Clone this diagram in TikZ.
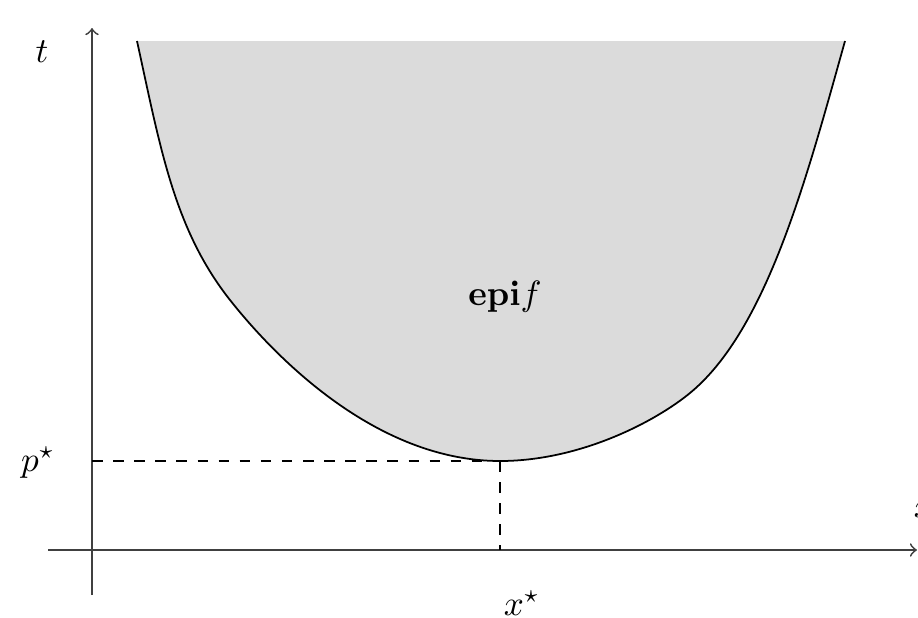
\documentclass[tikz,border=0pt]{standalone}
\usepackage{amsmath}
\usepackage{amssymb}
\usepackage{xcolor}
\usepackage{tikz}

\begin{document}
\begin{tikzpicture}[x=0.01cm,y=0.01cm,>=to]
  \useasboundingbox (0,0) rectangle (918,617);
  \coordinate (tbot) at (92,22);
  \coordinate (ttop) at (92,589);
  \coordinate (xleft) at (48,67);
  \coordinate (xright) at (917,67);
  \coordinate (xmin) at (500,156);
  \coordinate (pmark) at (92,156);
  \coordinate (xmark) at (500,67);
  \fill[black!14] (137,576) .. controls (160.5,468.5) and (174.2,387.65) .. (230,317) .. controls (273.4,262.05) and (375,156) .. (xmin) .. controls (580,156) and (655.3,195.4) .. (690,224) .. controls (767.2,287.5) and (807.2,441.2) .. (845,576) -- cycle;
  \draw[black, line width=0.5pt] (137,576) .. controls (160.5,468.5) and (174.2,387.65) .. (230,317) .. controls (273.4,262.05) and (375,156) .. (xmin) .. controls (580,156) and (655.3,195.4) .. (690,224) .. controls (767.2,287.5) and (807.2,441.2) .. (845,576);
  \draw[->, black!75, line width=0.5pt] (tbot) -- (ttop);
  \draw[->, black!75, line width=0.5pt] (xleft) -- (xright);
  \draw[dashed, line width=0.5pt] (pmark) -- (xmin);
  \draw[dashed, line width=0.5pt] (xmin) -- (xmark);
  \node (tlabel) at (42,565) {$t$};
  \node (xlabel) at (924,107) {$x$};
  \node (pstar) at (38,154) {$p^\star$};
  \node (xstar) at (522,14) {$x^\star$};
  \node (epi) at (505,320) {$\mathbf{epi}f$};
\end{tikzpicture}
\end{document}
